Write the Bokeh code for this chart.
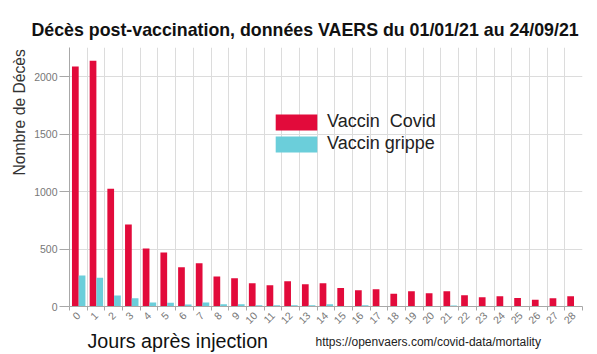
import numpy as np
from bokeh.plotting import figure
from bokeh.layouts import row, column
from bokeh.models import (ColumnDataSource, FixedTicker, Label, Legend, LegendItem,
                          Range1d)
from bokeh.embed import file_html
from bokeh.resources import INLINE

# ---- data ----
days = list(range(29))
day_labels = [str(d) for d in days]
covid = [2090, 2140, 1026, 713, 504, 470, 341, 377, 261, 246, 203, 186, 220, 194, 203,
         162, 142, 150, 110, 133, 116, 133, 98, 81, 90, 75, 58, 72, 90]
grippe = [270, 250, 96, 72, 35, 32, 17, 35, 20, 20, 11, 11, 11, 11, 20,
          2, 11, 4, 0, 0, 0, 8, 0, 0, 0, 4, 0, 4, 0]
y_ticks = [0, 500, 1000, 1500, 2000]

title_text = "Décès post-vaccination, données VAERS du 01/01/21 au 24/09/21"
x_title = "Jours après injection"
y_title = "Nombre de Décès"
source_text = "https://openvaers.com/covid-data/mortality"
series_names = ["Vaccin  Covid", "Vaccin grippe"]

RED = "#E20B3B"
CYAN = "#6BCEDA"
FONT = "Liberation Sans"

W, H = 597, 354
LEFT_W = 31
TOP_H = 47
MAIN_H = 283
BOT_H = H - TOP_H - MAIN_H
MAIN_W = W - LEFT_W


def text_fig(w, h):
    f = figure(width=w, height=h, output_backend="svg", toolbar_location=None,
               title=None, x_range=Range1d(0, w), y_range=Range1d(0, h),
               x_axis_type=None, y_axis_type=None, frame_align=False,
               min_border=0, min_border_left=0, min_border_right=0,
               min_border_top=0, min_border_bottom=0)
    f.outline_line_color = None
    f.grid.visible = False
    f.background_fill_color = "white"
    f.border_fill_color = "white"
    return f


# ---- main chart ----
d = np.array(days, dtype=float)
centers = d + 0.52
src = ColumnDataSource(dict(xr=centers - 0.19, xc=centers + 0.19,
                            covid=covid, grippe=grippe))

p = figure(width=MAIN_W, height=MAIN_H, output_backend="svg", toolbar_location=None,
           title=None, x_range=Range1d(0, len(days)), y_range=Range1d(0, 2255),
           frame_align=False,
           min_border_left=37, min_border_right=15, min_border_top=0,
           min_border_bottom=24)
p.outline_line_color = None
p.background_fill_color = "white"
p.border_fill_color = "white"

r1 = p.vbar(x="xr", top="covid", width=0.38, source=src, fill_color=RED, line_color=None)
r2 = p.vbar(x="xc", top="grippe", width=0.38, source=src, fill_color=CYAN, line_color=None)

bounds = list(np.arange(len(days) + 1, dtype=float))
p.xaxis.ticker = FixedTicker(ticks=list(d + 0.5), minor_ticks=bounds)
p.xaxis.major_label_overrides = {float(c): lab for c, lab in zip(d + 0.5, day_labels)}
p.xaxis.major_label_orientation = np.pi / 4
p.xaxis.major_tick_out = 0
p.xaxis.major_tick_in = 0
p.xaxis.minor_tick_out = 4
p.xaxis.minor_tick_in = 0
p.xaxis.major_label_standoff = 3
p.yaxis.ticker = FixedTicker(ticks=y_ticks)
p.yaxis.minor_tick_out = 0
p.yaxis.minor_tick_in = 0
p.yaxis.major_tick_out = 10
p.yaxis.major_tick_in = 0
p.yaxis.major_label_standoff = 2
for ax in (p.xaxis, p.yaxis):
    ax.axis_line_color = "#a8a8a8"
    ax.major_tick_line_color = "#a8a8a8"
    ax.minor_tick_line_color = "#a8a8a8"
    ax.major_label_text_color = "#777777"
    ax.major_label_text_font = FONT
    ax.major_label_text_font_size = "10.5px"

p.xgrid.ticker = FixedTicker(ticks=bounds)
p.xgrid.grid_line_color = "#dcdcdc"
p.ygrid.grid_line_color = "#dcdcdc"

leg = Legend(items=[LegendItem(label=series_names[0], renderers=[r1]),
                    LegendItem(label=series_names[1], renderers=[r2])],
             location=(201, 152), glyph_width=52, glyph_height=20,
             label_height=20, spacing=1, padding=10, margin=0,
             label_text_font=FONT, label_text_font_size="18px",
             label_text_color="#222222", label_standoff=5,
             border_line_color=None, background_fill_alpha=0)
p.add_layout(leg, "center")

# ---- text panels ----
def shift(fs):
    return 0.35 * fs

left = text_fig(LEFT_W, H)
left.add_layout(Label(x=24 - shift(15.7), y=H - 175, text=y_title, angle=np.pi / 2,
                      text_font=FONT, text_font_size="15.7px", text_color="#333333",
                      text_baseline="alphabetic", text_align="left"))

top = text_fig(MAIN_W, TOP_H)
top.add_layout(Label(x=31 - LEFT_W, y=TOP_H - 36 + shift(17.8), text=title_text,
                     text_font=FONT, text_font_style="bold", text_font_size="17.8px",
                     text_color="#111111", text_baseline="alphabetic", text_align="left"))

bot = text_fig(MAIN_W, BOT_H)
bot.add_layout(Label(x=87 - LEFT_W, y=H - 347 + shift(19.7), text=x_title,
                     text_font=FONT, text_font_size="19.7px", text_color="#111111",
                     text_baseline="alphabetic", text_align="left"))
bot.add_layout(Label(x=315 - LEFT_W, y=H - 346 + shift(12), text=source_text,
                     text_font=FONT, text_font_size="12px", text_color="#222222",
                     text_baseline="alphabetic", text_align="left"))

layout = row(left, column(top, p, bot, spacing=0), spacing=0)

open("out.html", "w").write(file_html(layout, INLINE))
